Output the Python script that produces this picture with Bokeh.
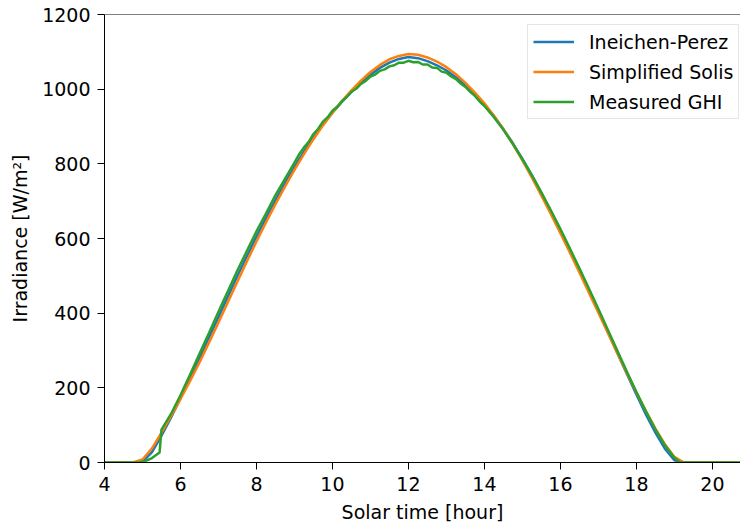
from bokeh.plotting import figure
from bokeh.models import Range1d, FixedTicker, Legend, LegendItem, Span
from bokeh.embed import file_html
from bokeh.resources import INLINE

# ---- data ----
hours = [4.0, 4.25, 4.5, 4.75, 5.0, 5.25, 5.5, 5.75, 6.0, 6.25, 6.5, 6.75,
         7.0, 7.25, 7.5, 7.75, 8.0, 8.25, 8.5, 8.75, 9.0, 9.25, 9.5, 9.75,
         10.0, 10.25, 10.5, 10.75, 11.0, 11.25, 11.5, 11.75, 12.0, 12.25, 12.5, 12.75,
         13.0, 13.25, 13.5, 13.75, 14.0, 14.25, 14.5, 14.75, 15.0, 15.25, 15.5, 15.75,
         16.0, 16.25, 16.5, 16.75, 17.0, 17.25, 17.5, 17.75, 18.0, 18.25, 18.5, 18.75,
         19.0, 19.25, 19.5, 19.75, 20.0, 20.25, 20.5, 20.75]

ineichen = [0, 0, 0, 0, 2, 28, 72, 120, 172, 226, 280, 335,
            390, 445, 500, 553, 605, 655, 703, 749, 792, 833, 870, 905,
            937, 966, 993, 1017, 1039, 1057, 1071, 1081, 1086, 1083, 1075, 1064,
            1050, 1032, 1011, 987, 959, 928, 893, 855, 813, 769, 722, 673,
            622, 570, 516, 461, 405, 349, 293, 237, 182, 129, 80, 37,
            6, 0, 0, 0, 0, 0, 0, 0]

solis = [0, 0, 0, 0, 8, 38, 80, 124, 170, 218, 268, 321,
         375, 430, 485, 539, 592, 643, 692, 739, 784, 826, 866, 903,
         937, 968, 997, 1023, 1046, 1065, 1080, 1089, 1094, 1092, 1085, 1074,
         1059, 1040, 1017, 991, 962, 929, 893, 853, 809, 763, 715, 665,
         614, 562, 509, 455, 401, 347, 293, 240, 188, 138, 91, 49,
         15, 0, 0, 0, 0, 0, 0, 0]

meas_hours = [4.0, 4.25, 4.5, 4.75, 4.95, 5.1, 5.25, 5.45, 5.5, 5.75, 6.0, 6.25, 6.5, 6.75,
              7.0, 7.25, 7.5, 7.75, 8.0, 8.25, 8.5, 8.75,
              9.0, 9.125, 9.25, 9.375, 9.5, 9.625, 9.75, 9.875,
              10.0, 10.125, 10.25, 10.375, 10.5, 10.625, 10.75, 10.875,
              11.0, 11.125, 11.25, 11.375, 11.5, 11.625, 11.75, 11.875,
              12.0, 12.125, 12.25, 12.375, 12.5, 12.625, 12.75, 12.875,
              13.0, 13.125, 13.25, 13.375, 13.5, 13.625, 13.75, 13.875,
              14.0, 14.25, 14.5, 14.75, 15.0, 15.25, 15.5, 15.75,
              16.0, 16.25, 16.5, 16.75, 17.0, 17.25, 17.5, 17.75, 18.0, 18.25, 18.5, 18.75,
              19.0, 19.15, 19.5, 19.75, 20.0, 20.25, 20.5, 20.75]

measured = [0, 0, 0, 0, 1, 5, 12, 27, 88, 130, 180, 235, 291, 347,
            404, 459, 515, 567, 619, 667, 716, 760,
            803, 826, 844, 859, 880, 894, 913, 925,
            942, 953, 968, 979, 993, 1001, 1014, 1022,
            1034, 1039, 1049, 1053, 1061, 1064, 1071, 1071,
            1076, 1072, 1073, 1066, 1066, 1058, 1057, 1047,
            1044, 1034, 1027, 1015, 1006, 993, 982, 967,
            955, 925, 891, 853, 812, 769, 723, 675,
            625, 573, 520, 466, 411, 355, 299, 243, 189, 137, 89, 46,
            13, 0, 0, 0, 0, 0, 0, 0]

x_ticks = [4, 6, 8, 10, 12, 14, 16, 18, 20]
y_ticks = [0, 200, 400, 600, 800, 1000, 1200]

FONT = "DejaVu Sans"
FS = "19px"

p = figure(width=740, height=527, output_backend="svg", toolbar_location=None,
           x_range=Range1d(4, 20.74), y_range=Range1d(0, 1200),
           min_border_left=104, min_border_right=0, min_border_top=14, min_border_bottom=65)
p.xgrid.visible = False
p.ygrid.visible = False
p.outline_line_color = None
p.background_fill_color = "white"
p.border_fill_color = "white"

r1 = p.line(hours, ineichen, line_color="#1f77b4", line_width=2.5)
r2 = p.line(hours, solis, line_color="#ff7f0e", line_width=2.5)
r3 = p.line(meas_hours, measured, line_color="#2ca02c", line_width=2.5)

# top spine
p.add_layout(Span(location=1200, dimension="width", line_color="black", line_width=1))

for ax, ticks in ((p.xaxis[0], x_ticks), (p.yaxis[0], y_ticks)):
    ax.ticker = FixedTicker(ticks=ticks)
    ax.minor_tick_line_color = None
    ax.major_tick_in = 0
    ax.major_tick_out = 7
    ax.axis_line_color = "black"
    ax.axis_line_width = 1
    ax.major_tick_line_color = "black"
    ax.major_label_text_font = FONT
    ax.major_label_text_font_size = FS
    ax.major_label_text_color = "black"
    ax.axis_label_text_font = FONT
    ax.axis_label_text_font_size = FS
    ax.axis_label_text_font_style = "normal"
    ax.axis_label_text_color = "black"

p.xaxis[0].axis_label = "Solar time [hour]"
p.yaxis[0].axis_label = "Irradiance [W/m²]"
p.xaxis[0].major_label_standoff = 7
p.yaxis[0].major_label_standoff = 7
p.xaxis[0].axis_label_standoff = 7
p.yaxis[0].axis_label_standoff = 8

legend = Legend(items=[LegendItem(label="Ineichen-Perez", renderers=[r1]),
                       LegendItem(label="Simplified Solis", renderers=[r2]),
                       LegendItem(label="Measured GHI", renderers=[r3])],
                location=(423, 343))
legend.label_text_font = FONT
legend.label_text_font_size = FS
legend.label_text_color = "black"
legend.glyph_width = 41
legend.glyph_height = 23
legend.label_height = 23
legend.label_standoff = 15
legend.spacing = 7
legend.padding = 5
legend.margin = 0
legend.border_line_color = "#cccccc"
legend.border_line_width = 1
legend.background_fill_alpha = 0.8
p.add_layout(legend)

open("out.html", "w").write(file_html(p, INLINE))
